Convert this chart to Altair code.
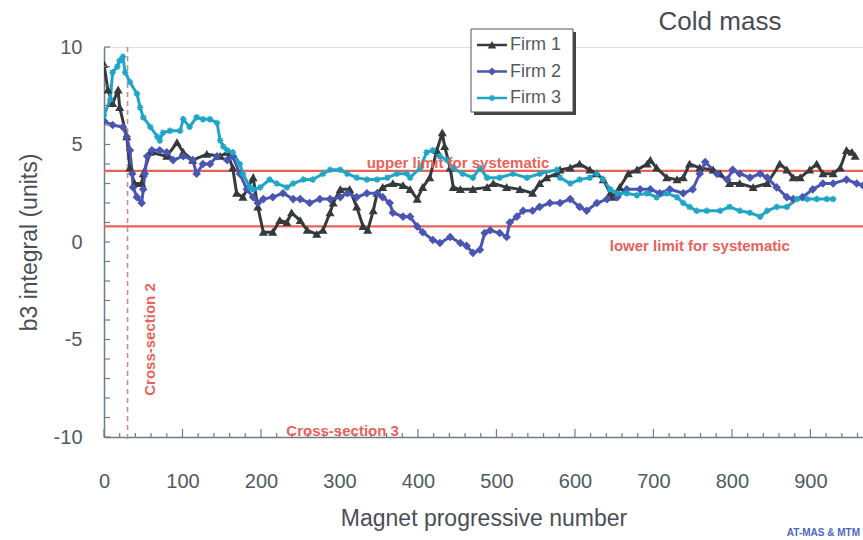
import altair as alt
import pandas as pd

firms = ["Firm 1", "Firm 2", "Firm 3"]
colors = ["#353b3d", "#4a56b2", "#1fa6c6"]

firm1_x = [0, 5, 11, 18, 20, 29, 33, 39, 48, 50, 59, 80, 93, 101, 113, 131, 148, 157, 164, 169, 177, 190, 196,
           203, 215, 224, 233, 239, 250, 259, 271, 279, 288, 292, 301, 313, 322, 330, 336, 343, 348, 355, 368,
           381, 390, 399, 406, 415, 424, 431, 434, 441, 445, 454, 470, 488, 496, 513, 530, 546, 555, 564, 577,
           581, 594, 606, 619, 628, 636, 645, 648, 657, 668, 679, 692, 696, 704, 717, 730, 738, 746, 759, 776,
           785, 797, 810, 827, 845, 861, 870, 878, 887, 899, 908, 916, 929, 938, 946, 953, 957]
firm1_y = [9.1, 7.8, 7.1, 7.8, 6.9, 5.4, 3.8, 3.0, 3.0, 3.5, 4.6, 4.4, 5.1, 4.6, 4.2, 4.5, 4.4, 4.6, 3.8, 2.5, 2.3,
           3.3, 1.8, 0.5, 0.5, 1.1, 1.0, 1.5, 1.1, 0.6, 0.4, 0.6, 1.5, 2.0, 2.7, 2.7, 1.8, 0.8, 0.6, 1.6, 2.5,
           2.8, 3.0, 2.9, 2.7, 2.2, 2.8, 3.3, 4.7, 5.6, 4.9, 3.8, 2.8, 2.7, 2.7, 2.8, 3.0, 2.8, 2.7, 2.5, 3.0,
           3.3, 3.5, 3.7, 3.8, 4.0, 3.7, 3.5, 3.2, 2.5, 2.3, 2.8, 3.5, 3.7, 4.0, 4.2, 3.8, 3.3, 3.2, 3.3, 4.0,
           3.8, 3.7, 3.5, 3.0, 3.0, 2.8, 3.0, 4.0, 3.7, 3.3, 3.3, 3.7, 4.0, 3.5, 3.5, 3.8, 4.7, 4.6, 4.4]

firm2_x = [0, 11, 24, 29, 33, 36, 37, 42, 48, 50, 52, 55, 61, 71, 80, 88, 101, 113, 118, 126, 135, 144, 157, 164,
           173, 182, 190, 196, 203, 215, 228, 241, 250, 262, 275, 288, 301, 310, 322, 335, 348, 355, 364, 368,
           381, 390, 399, 406, 419, 428, 441, 454, 462, 470, 479, 485, 492, 504, 513, 517, 526, 534, 546, 555,
           568, 581, 594, 606, 615, 628, 641, 654, 666, 683, 696, 708, 721, 738, 750, 759, 766, 781, 794, 801,
           810, 823, 836, 845, 857, 870, 878, 890, 903, 916, 929, 946, 959, 967]
firm2_y = [6.2, 6.0, 5.9, 5.4, 4.7, 3.5, 2.8, 2.3, 2.0, 2.7, 3.5, 4.4, 4.7, 4.7, 4.6, 4.2, 4.4, 4.2, 3.5, 4.0, 4.0,
           4.4, 4.2, 4.4, 3.5, 2.7, 2.3, 2.0, 2.2, 2.3, 2.5, 2.2, 2.2, 2.0, 2.2, 2.2, 2.3, 2.5, 2.3, 2.5, 2.5,
           2.3, 2.0, 1.5, 1.3, 1.3, 0.8, 0.5, 0.1, -0.05, 0.26, -0.05, -0.2, -0.56, -0.4, 0.46, 0.6, 0.46, 0.26,
           1.0, 1.3, 1.6, 1.6, 1.8, 2.0, 2.0, 2.2, 1.8, 1.6, 2.0, 2.2, 2.3, 2.7, 2.7, 2.7, 2.5, 2.7, 2.5, 2.7,
           3.5, 4.1, 3.5, 3.2, 3.7, 3.5, 3.3, 3.5, 3.3, 2.8, 2.3, 2.2, 2.3, 2.7, 3.0, 3.0, 3.2, 3.0, 2.9]

firm3_x = [0, 8, 11, 17, 20, 24, 27, 33, 42, 46, 50, 59, 68, 71, 75, 84, 97, 101, 109, 118, 126, 135, 144, 148,
           152, 157, 164, 173, 177, 186, 190, 199, 211, 220, 233, 241, 254, 266, 279, 288, 301, 310, 322, 335,
           348, 361, 373, 386, 390, 403, 411, 419, 428, 437, 445, 457, 470, 479, 488, 504, 521, 539, 555, 577,
           581, 594, 606, 619, 628, 636, 645, 654, 666, 679, 692, 704, 717, 730, 738, 746, 755, 768, 785, 797,
           810, 823, 836, 845, 857, 870, 883, 896, 908, 921, 929]
firm3_y = [6.5, 7.3, 8.7, 9.0, 9.3, 9.5, 8.7, 8.2, 7.6, 6.9, 6.4, 5.9, 5.4, 5.2, 5.6, 5.7, 5.7, 6.3, 5.9, 6.4, 6.3,
           6.3, 6.1, 5.2, 4.9, 4.7, 4.6, 4.0, 3.5, 2.8, 2.7, 2.8, 3.2, 3.0, 2.8, 3.0, 3.2, 3.2, 3.5, 3.7, 3.7,
           3.5, 3.3, 3.2, 3.2, 3.3, 3.5, 3.5, 3.3, 3.8, 4.6, 4.7, 4.4, 4.2, 3.8, 3.5, 3.3, 3.8, 3.3, 3.3, 3.5,
           3.3, 3.5, 3.7, 3.3, 3.0, 3.2, 3.3, 3.5, 3.2, 2.7, 2.5, 2.5, 2.4, 2.5, 2.3, 2.5, 2.3, 2.0, 1.8, 1.6,
           1.6, 1.6, 1.8, 1.6, 1.5, 1.3, 1.6, 1.8, 1.8, 2.2, 2.2, 2.2, 2.2, 2.2]

limits = [3.65, 0.8]
cross_section_2 = [30]
x_labels = [0, 100, 200, 300, 400, 500, 600, 700, 800, 900]
y_labels = [-10, -5, 0, 5, 10]
x_minor = [v for v in range(0, 961, 20) if v % 100 != 0]
y_minor = list(range(-10, 11))

W, H = 759, 390
FONT = "Liberation Sans"
RED = "#e8625a"
AXC = "#6e7c8a"

rows = []
for f, xs, ys in [("Firm 1", firm1_x, firm1_y), ("Firm 2", firm2_x, firm2_y), ("Firm 3", firm3_x, firm3_y)]:
    for a, b in zip(xs, ys):
        rows.append({"firm": f, "x": a, "y": b})
df = pd.DataFrame(rows)

xs = alt.Scale(domain=[0, 967], nice=False, zero=False)
ys = alt.Scale(domain=[-10, 10], nice=False, zero=False)
col = alt.Scale(domain=firms, range=colors)
asterisk = "M-1,0L1,0M0,-1L0,1M-0.7,-0.7L0.7,0.7M-0.7,0.7L0.7,-0.7"
shp = alt.Scale(domain=firms, range=["triangle-up", "diamond", asterisk])

X = alt.X("x:Q", scale=xs, title="Magnet progressive number",
          axis=alt.Axis(values=x_labels, ticks=False, grid=False, domainColor=AXC, domainWidth=1.5,
                        labelFlush=False, labelExpr="'' + datum.value",
                        labelFont=FONT, labelFontSize=20, labelColor="#4f5a64", labelPadding=34,
                        titleFont=FONT, titleFontSize=23, titleFontWeight="normal", titleColor="#4a4f55",
                        titlePadding=16))
Y = alt.Y("y:Q", scale=ys, title="b3 integral (units)",
          axis=alt.Axis(values=y_labels, ticks=False, grid=False, domainColor=AXC, domainWidth=1.5,
                        labelFlush=False, labelExpr="'' + datum.value",
                        labelFont=FONT, labelFontSize=20, labelColor="#4f5a64", labelPadding=22,
                        titleFont=FONT, titleFontSize=23, titleFontWeight="normal", titleColor="#4a4f55",
                        titlePadding=12))

base = alt.Chart(df)
lines = base.mark_line(strokeWidth=3, clip=True).encode(
    x=X, y=Y, color=alt.Color("firm:N", scale=col, legend=None), detail="firm:N")
points = base.mark_point(filled=True, size=42, strokeWidth=1.5, opacity=1, clip=True).encode(
    x=alt.X("x:Q", scale=xs), y=alt.Y("y:Q", scale=ys),
    color=alt.Color("firm:N", scale=col, legend=None),
    stroke=alt.Stroke("firm:N", scale=col, legend=None),
    shape=alt.Shape("firm:N", scale=shp, legend=None))

lim = alt.Chart(pd.DataFrame({"v": limits})).mark_rule(color=RED, strokeWidth=2.2).encode(
    y=alt.Y("v:Q", scale=ys))
cs2 = alt.Chart(pd.DataFrame({"v": cross_section_2})).mark_rule(
    color="#c98c8c", strokeWidth=1.6, strokeDash=[5, 4]).encode(
    x=alt.X("v:Q", scale=xs), y=alt.value(0), y2=alt.value(H + 4))

xmaj_t = alt.Chart(pd.DataFrame({"v": x_labels})).mark_rule(color=AXC, strokeWidth=1.2).encode(
    x=alt.X("v:Q", scale=xs), y=alt.value(H), y2=alt.value(H - 8))
xmin_t = alt.Chart(pd.DataFrame({"v": x_minor})).mark_rule(color=AXC, strokeWidth=1.2).encode(
    x=alt.X("v:Q", scale=xs), y=alt.value(H), y2=alt.value(H - 4))
y_t = alt.Chart(pd.DataFrame({"v": y_minor})).mark_rule(color=AXC, strokeWidth=1.2).encode(
    y=alt.Y("v:Q", scale=ys), x=alt.value(0), x2=alt.value(6))

ann = pd.DataFrame({
    "t": ["upper limit for systematic", "lower limit for systematic", "Cross-section 3"],
    "x": [451, 759, 304], "y": [4.05, -0.2, -9.7]})
ann_txt = alt.Chart(ann).mark_text(font=FONT, fontSize=15, fontWeight="bold", color=RED).encode(
    x=alt.X("x:Q", scale=xs), y=alt.Y("y:Q", scale=ys), text="t:N")
cs2_txt = alt.Chart(pd.DataFrame({"t": ["Cross-section 2"], "x": [58], "y": [-5.0]})).mark_text(
    font=FONT, fontSize=15, fontWeight="bold", color=RED, angle=270).encode(
    x=alt.X("x:Q", scale=xs), y=alt.Y("y:Q", scale=ys), text="t:N")

title = alt.Chart(pd.DataFrame({"t": ["Cold mass"]})).mark_text(
    font=FONT, fontSize=26, color="#464c52").encode(text="t:N", x=alt.value(616), y=alt.value(-25))
credit = alt.Chart(pd.DataFrame({"t": ["AT-MAS & MTM"]})).mark_text(
    font=FONT, fontSize=10, fontWeight="bold", color="#4a68c4", align="right").encode(
    text="t:N", x=alt.value(W - 3), y=alt.value(486))

# legend (box with shadow)
LX, LY, LW, LH = 367, -18, 102, 83
shadow = alt.Chart(pd.DataFrame({"a": [1]})).mark_rect(fill="#444", stroke=None).encode(
    x=alt.value(LX + 3), x2=alt.value(LX + LW + 3), y=alt.value(LY + 3), y2=alt.value(LY + LH + 3))
box = alt.Chart(pd.DataFrame({"a": [1]})).mark_rect(fill="white", stroke="#555", strokeWidth=1).encode(
    x=alt.value(LX), x2=alt.value(LX + LW), y=alt.value(LY), y2=alt.value(LY + LH))
leg_layers = [shadow, box]
for i, f in enumerate(firms):
    d = pd.DataFrame({"firm": [f]})
    yy = LY + 16 + i * 26.5
    leg_layers.append(alt.Chart(d).mark_rule(strokeWidth=2.5).encode(
        x=alt.value(LX + 6), x2=alt.value(LX + 36), y=alt.value(yy),
        color=alt.Color("firm:N", scale=col, legend=None)))
    leg_layers.append(alt.Chart(d).mark_point(filled=True, size=40, strokeWidth=1.3, opacity=1).encode(
        x=alt.value(LX + 21), y=alt.value(yy),
        color=alt.Color("firm:N", scale=col, legend=None),
        stroke=alt.Stroke("firm:N", scale=col, legend=None),
        shape=alt.Shape("firm:N", scale=shp, legend=None)))
    leg_layers.append(alt.Chart(d).mark_text(font=FONT, fontSize=18, color="#555a60", align="left").encode(
        x=alt.value(LX + 39), y=alt.value(yy), text="firm:N"))

chart = alt.layer(
    lim, cs2, lines, points, xmaj_t, xmin_t, y_t, ann_txt, cs2_txt, title, credit, *leg_layers
).properties(
    width=W, height=H,
    autosize=alt.AutoSizeParams(type="none"),
    padding={"left": 104, "top": 47, "right": 0, "bottom": 103},
).configure_view(stroke=None).configure(background="white")

chart.save("out.html", embed_options={"renderer": "svg", "actions": False})
